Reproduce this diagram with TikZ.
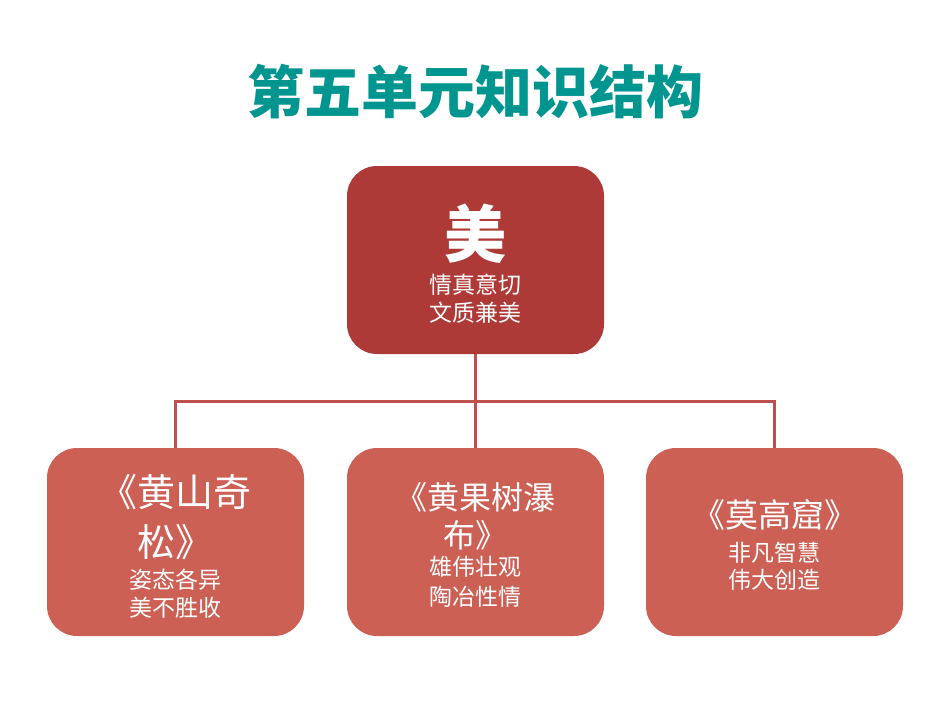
\documentclass[tikz,border=0pt]{standalone}
\usepackage{fontspec}
\usepackage{xcolor}
\usetikzlibrary{math}
\newfontfamily\cjk{Noto Sans CJK SC}
\definecolor{myteal}{RGB}{0,150,143}
\definecolor{topred}{RGB}{174,58,56}
\definecolor{subred}{RGB}{205,96,85}
\definecolor{linered}{RGB}{192,80,77}

\begin{document}
\begin{tikzpicture}[x=1pt,y=-1pt,
  topbox/.style={fill=topred, rounded corners=30pt, minimum width=\W pt, minimum height=\H pt, inner sep=0pt},
  subbox/.style={topbox, fill=subred},
  boxtext/.style 2 args={text=white, align=center, inner sep=0pt, font=\cjk\fontsize{#1}{#2}\selectfont},
  link/.style={draw=linered, line width=3pt}]
\tikzmath{
\W=257;
\H=188;
\Yt=260;
\Yb=542;
\Yf=401;
}
\useasboundingbox (0,0) rectangle (950,713);

\node[text=myteal, font=\cjk\bfseries\fontsize{57}{60}\selectfont] (title) at (475,92) {第五单元知识结构};

\node[topbox] (mei) at (475.5,\Yt) {};
\node[boxtext={62}{64}, font=\cjk\bfseries\fontsize{62}{64}\selectfont] (mei-t) at (475.5,234) {美};
\node[boxtext={23}{28}] (mei-c) at (475.5,299) {情真意切\\文质兼美};

\node[subbox] (huangshan) at (175.5,\Yb) {};
\node[boxtext={38}{50}] (huangshan-t) at (175.5,517) {《黄山奇\\松》};
\node[boxtext={23}{28}] (huangshan-c) at (175.5,594) {姿态各异\\美不胜收};

\node[subbox] (pubu) at (475.5,\Yb) {};
\node[boxtext={32}{38}] (pubu-t) at (475.5,516) {《黄果树瀑\\布》};
\node[boxtext={23}{30}] (pubu-c) at (475.5,582) {雄伟壮观\\陶冶性情};

\node[subbox] (mogao) at (774.5,\Yb) {};
\node[boxtext={33}{38}] (mogao-t) at (774.5,515) {《莫高窟》};
\node[boxtext={23}{27}] (mogao-c) at (774.5,566) {非凡智慧\\伟大创造};

\coordinate (fork) at (475.5,\Yf);
\draw[link] (mei.south) -- (fork);
\draw[link] (huangshan.north) |- (fork);
\draw[link] (mogao.north) |- (fork);
\draw[link] (pubu.north) -- (fork);
\end{tikzpicture}
\end{document}
